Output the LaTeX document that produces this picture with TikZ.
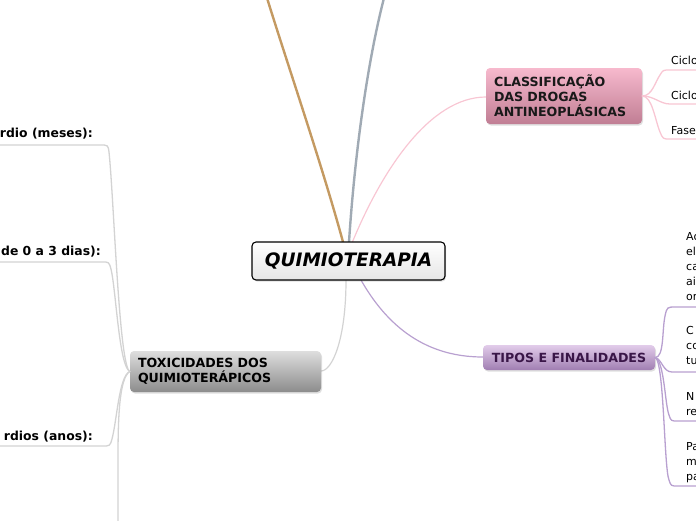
\documentclass[tikz,border=0pt]{standalone}
\usepackage{fontspec}
\setmainfont{DejaVu Sans}
\usetikzlibrary{shadows}
\definecolor{brownline}{HTML}{C49A62}
\definecolor{blueline}{HTML}{A0AAB4}
\definecolor{pinkline}{HTML}{F8C6D3}
\definecolor{purpline}{HTML}{B8A0D0}
\definecolor{grayline}{HTML}{D3D3D3}
\definecolor{purptext}{HTML}{3A1648}
\tikzset{
  x=1pt,y=-1pt,
  box/.style={rounded corners=4pt, inner sep=0pt, drop shadow={opacity=0.25,shadow xshift=1pt,shadow yshift=-1.5pt}},
  bold11/.style={font=\fontsize{12.6}{15}\selectfont\bfseries},
  leaf/.style={font=\fontsize{11}{15}\selectfont, inner sep=0pt, anchor=base west},
  leftleaf/.style={font=\fontsize{12.4}{15}\selectfont\bfseries, inner sep=0pt, anchor=base east},
  thick1/.style={line width=1.3pt, line cap=round},
}
\begin{document}
\begin{tikzpicture}
\useasboundingbox (0,0) rectangle (696,520);
\clip (0,0) rectangle (696,520);

% coordinates for free ends
\coordinate (topA) at (267,-2);
\coordinate (topB) at (384,-2);

% main connectors
\draw[brownline, line width=2.4pt] (343,242) .. controls (322,165) and (290,72) .. (topA);
\draw[blueline, line width=2.4pt] (349,242) .. controls (355,150) and (368,60) .. (topB);
\draw[pinkline, line width=1.2pt] (352,243) .. controls (382,170) and (430,97) .. (486,97);
\draw[purpline, line width=1.2pt] (361,280) .. controls (395,340) and (440,357) .. (483,357);
\draw[grayline, line width=1.2pt] (346,280) .. controls (346,340) and (332,371) .. (321,371);

% central node
\node[box, draw=black, line width=1.1pt, top color=white, bottom color=black!10,
      minimum width=193pt, minimum height=38pt,
      font=\fontsize{18.5}{20}\selectfont\bfseries\itshape] (central) at (348.5,261) {QUIMIOTERAPIA};

% classification
\node[box, top color={rgb,255:red,247;green,185;blue,205}, bottom color={rgb,255:red,192;green,126;blue,148},
      minimum width=156pt, minimum height=56pt, text width=140pt, align=left,
      bold11, text=black!90] (classif) at (564,96) {CLASSIFICAÇÃO\\DAS DROGAS\\ANTINEOPLÁSICAS};

% tipos
\node[box, top color={rgb,255:red,226;green,204;blue,234}, bottom color={rgb,255:red,160;green,126;blue,178},
      minimum width=172pt, minimum height=25pt, bold11, text=purptext] (tipos) at (569,357.5) {TIPOS E FINALIDADES};

% toxicidades
\node[box, top color={rgb,255:red,222;green,222;blue,222}, bottom color={rgb,255:red,140;green,140;blue,140},
      minimum width=191pt, minimum height=41pt, text width=175pt, align=left,
      bold11, text=black] (toxic) at (225.5,371.5) {TOXICIDADES DOS\\QUIMIOTERÁPICOS};

% pink children
\coordinate (p1) at (696,70);
\coordinate (p2) at (696,104);
\coordinate (p3) at (696,139);
\draw[pinkline, thick1] (classif.east) .. controls +(10,0) and (655,82) .. (660,75) .. controls (663,70) .. (670,70) -- (p1);
\draw[pinkline, thick1] (classif.east) .. controls +(12,0) and (660,104) .. (670,104) -- (p2);
\draw[pinkline, thick1] (classif.east) .. controls +(10,0) and (655,120) .. (660,132) .. controls (663,139) .. (670,139) -- (p3);
\node[leaf] (c1) at (671,64) {Ciclo};
\node[leaf] (c2) at (671,99) {Ciclo};
\node[leaf] (c3) at (671,134) {Fase};

% purple children
\coordinate (q1) at (696,307);
\coordinate (q2) at (696,372);
\coordinate (q3) at (696,421);
\coordinate (q4) at (696,486);
\draw[purpline, thick1] (tipos.east) .. controls +(9,0) and (662,330) .. (665,316) .. controls (667,307) .. (676,307) -- (q1);
\draw[purpline, thick1] (tipos.east) .. controls +(7,2) and (663,372) .. (672,372) -- (q2);
\draw[purpline, thick1] (tipos.east) .. controls +(9,3) and (665,405) .. (669,415) .. controls (671,421) .. (678,421) -- (q3);
\draw[purpline, thick1] (tipos.east) .. controls +(9,4) and (664,468) .. (669,480) .. controls (671,486) .. (678,486) -- (q4);
\foreach \t [count=\i] in {Ac,el,ca,ai,or} \node[leaf] (ta\i) at (686,240+15*\i-15) {\t};
\foreach \t [count=\i] in {C,co,tu} \node[leaf] (tb\i) at (686,334+15*\i-15) {\t};
\foreach \t [count=\i] in {N,re} \node[leaf] (tc\i) at (686,400+15*\i-15) {\t};
\foreach \t [count=\i] in {Pa,m,pa} \node[leaf] (td\i) at (686,450+15*\i-15) {\t};

% left children
\coordinate (l1) at (-2,145);
\coordinate (l2) at (-2,262);
\coordinate (l3) at (-2,446);
\coordinate (l4) at (118,522);
\draw[grayline, thick1] (toxic.west) .. controls (119,366) and (114,200) .. (109,152) .. controls (108,145) .. (100,145) -- (l1);
\draw[grayline, thick1] (toxic.west) .. controls (119,366) and (116,290) .. (111,269) .. controls (109,262) .. (102,262) -- (l2);
\draw[grayline, thick1] (toxic.west) .. controls (119,376) and (117,420) .. (112,439) .. controls (110,446) .. (102,446) -- (l3);
\draw[grayline, thick1] (toxic.west) .. controls (119,378) and (118,420) .. (118,460) -- (l4);
\node[leftleaf] (t1) at (93,137) {rdio (meses):};
\node[leftleaf] (t2) at (101,255) {de 0 a 3 dias):};
\node[leftleaf] (t3) at (93,440) {rdios (anos):};
\end{tikzpicture}
\end{document}
